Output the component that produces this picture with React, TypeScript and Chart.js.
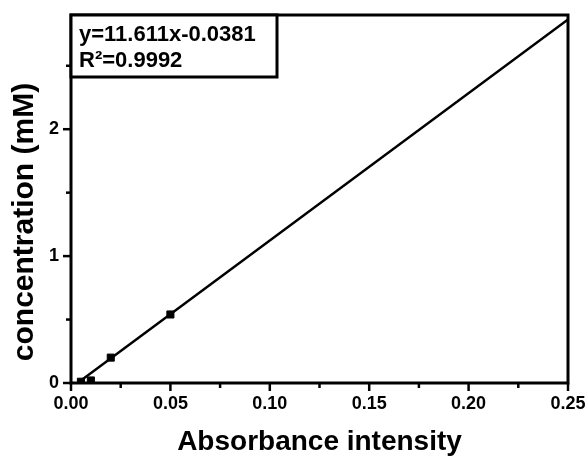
import React, { useEffect, useRef } from "react";
import { Chart, registerables } from "chart.js";

Chart.register(...registerables);

const absorbance = [0.005, 0.01, 0.02, 0.05];
const concentration = [0.01, 0.02, 0.2, 0.54];
const slope = 11.611;
const intercept = -0.0381;
const fitX = [0.0033, 0.25];
const xTicks = [0, 0.025, 0.05, 0.075, 0.1, 0.125, 0.15, 0.175, 0.2, 0.225, 0.25];
const yTicks = [0, 0.5, 1, 1.5, 2, 2.5];
const equationText = "y=11.611x-0.0381";
const r2Text = "R\u00B2=0.9992";
const xTitle = "Absorbance intensity";
const yTitle = "concentration (mM)";

const FONT = "'Liberation Sans', Arial, sans-serif";

const framePlugin = {
  id: "frame",
  afterDraw(chart: any) {
    const { ctx, chartArea } = chart;
    const { left, right, top, bottom } = chartArea;
    const xs = chart.scales.x;
    const ys = chart.scales.y;
    ctx.save();
    ctx.strokeStyle = "#000";
    ctx.lineWidth = 3;
    ctx.lineCap = "square";
    ctx.strokeRect(left, top, right - left, bottom - top);
    ctx.lineWidth = 2.5;
    ctx.lineCap = "butt";
    xTicks.forEach((v) => {
      const px = xs.getPixelForValue(v);
      const major = Math.abs(v / 0.05 - Math.round(v / 0.05)) < 1e-6;
      ctx.beginPath();
      ctx.moveTo(px, bottom);
      ctx.lineTo(px, bottom + (major ? 8 : 5));
      ctx.stroke();
    });
    yTicks.forEach((v) => {
      const py = ys.getPixelForValue(v);
      const major = Number.isInteger(v);
      ctx.beginPath();
      ctx.moveTo(left, py);
      ctx.lineTo(left - (major ? 8 : 5), py);
      ctx.stroke();
    });
    const bx = left;
    const by = top;
    const bw = 206;
    const bh = 62;
    ctx.fillStyle = "#fff";
    ctx.fillRect(bx, by, bw, bh);
    ctx.lineWidth = 3;
    ctx.strokeRect(bx, by, bw, bh);
    ctx.fillStyle = "#000";
    ctx.font = `bold 22px ${FONT}`;
    ctx.textBaseline = "alphabetic";
    ctx.textAlign = "left";
    ctx.fillText(equationText, bx + 8, by + 26);
    ctx.fillText(r2Text, bx + 8, by + 52);
    // y axis title
    ctx.save();
    ctx.translate(33, 222);
    ctx.rotate(-Math.PI / 2);
    ctx.font = `bold 30px ${FONT}`;
    ctx.textAlign = "center";
    ctx.textBaseline = "alphabetic";
    ctx.fillText(yTitle, 0, 0);
    ctx.restore();
    ctx.restore();
  },
};

export default function App() {
  const ref = useRef<HTMLCanvasElement | null>(null);
  useEffect(() => {
    document.body.style.margin = "0";
    const fitY = fitX.map((x) => slope * x + intercept);
    const chart = new Chart(ref.current as HTMLCanvasElement, {
      type: "scatter",
      data: {
        datasets: [
          {
            type: "line",
            data: fitX.map((x, i) => ({ x, y: fitY[i] })),
            borderColor: "#000",
            borderWidth: 2.5,
            pointRadius: 0,
            fill: false,
            order: 2,
          },
          {
            data: absorbance.map((x, i) => ({ x, y: concentration[i] })),
            pointStyle: "rect",
            pointRadius: 5,
            backgroundColor: "#000",
            borderColor: "#000",
            borderWidth: 1,
            order: 1,
          },
        ],
      },
      options: {
        responsive: false,
        animation: false,
        layout: { padding: { top: 15, right: 19, left: 0, bottom: 0 } },
        plugins: { legend: { display: false }, tooltip: { enabled: false } },
        scales: {
          x: {
            type: "linear",
            min: 0,
            max: 0.25,
            afterBuildTicks: (axis: any) => {
              axis.ticks = xTicks.map((v) => ({ value: v }));
            },
            afterFit: (s: any) => {
              s.height = 74;
              s.paddingLeft = 0;
              s.paddingRight = 0;
              s.paddingTop = 0;
              s.paddingBottom = 0;
            },
            grid: { display: false, drawTicks: false },
            border: { display: false },
            ticks: {
              padding: 10,
              color: "#000",
              font: { family: FONT, size: 18, weight: "bold" },
              maxRotation: 0,
              autoSkip: false,
              callback: (v: any) => {
                const n = Number(v);
                return Math.abs(n / 0.05 - Math.round(n / 0.05)) < 1e-6 ? n.toFixed(2) : "";
              },
            },
            title: {
              display: true,
              text: xTitle,
              color: "#000",
              font: { family: FONT, size: 28, weight: "bold" },
              padding: { top: 0, bottom: -2 },
            },
          },
          y: {
            type: "linear",
            min: 0,
            max: 2.9,
            afterBuildTicks: (axis: any) => {
              axis.ticks = yTicks.map((v) => ({ value: v }));
            },
            afterFit: (s: any) => {
              s.width = 71;
              s.paddingLeft = 0;
              s.paddingRight = 0;
              s.paddingTop = 0;
              s.paddingBottom = 0;
            },
            grid: { display: false, drawTicks: false },
            border: { display: false },
            ticks: {
              padding: 12,
              color: "#000",
              font: { family: FONT, size: 18, weight: "bold" },
              autoSkip: false,
              callback: (v: any) => (Number.isInteger(Number(v)) ? String(v) : ""),
            },
            title: { display: false },
          },
        },
      },
      plugins: [framePlugin],
    } as any);
    return () => chart.destroy();
  }, []);
  return (
    <div style={{ position: "absolute", left: 0, top: 0, width: 587, height: 457, background: "#fff" }}>
      <canvas ref={ref} width={587} height={457} />
    </div>
  );
}
